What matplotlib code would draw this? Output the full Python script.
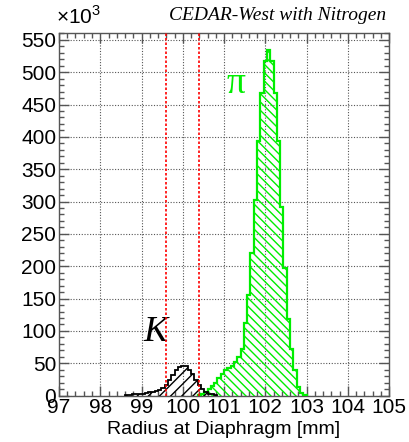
import numpy as np
import matplotlib
matplotlib.use('Agg')
import matplotlib.pyplot as plt
from matplotlib.ticker import MultipleLocator

plt.rcParams['font.family'] = 'Liberation Sans'
plt.rcParams['mathtext.fontset'] = 'custom'
plt.rcParams['mathtext.rm'] = 'Liberation Sans'
plt.rcParams['hatch.linewidth'] = 1.0

# histogram binning: 0.08 mm bins starting at 97 mm
bin_width = 0.08

# pion counts (x10^3), first bin starts at 100.36 mm
pi_start = 100.36
pi_counts = [1, 3, 6, 10, 15, 20, 27, 34, 40, 43, 46, 52, 60, 72, 112, 155,
             221, 302, 393, 468, 518, 535, 518, 468, 393, 292, 198, 118, 72,
             40, 14, 4, 1]

# kaon counts (x10^3), first bin starts at 98.60 mm
k_start = 98.60
k_counts = [1, 1, 2, 2, 3, 3, 4, 5, 6, 7, 9, 11, 17, 24, 32, 40, 44, 46, 45,
            40, 33, 24, 16, 10, 5, 3, 2, 1]

# diaphragm aperture limits
cut_lines = [99.6, 100.4]

x_ticks = [97, 98, 99, 100, 101, 102, 103, 104, 105]

W, H = 409, 442
fig = plt.figure(figsize=(W / 100, H / 100), dpi=100)
ax = fig.add_axes([59 / W, 1 - 395.6 / H, 330 / W, (395.6 - 32.7) / H])

pi_edges = pi_start + bin_width * np.arange(len(pi_counts) + 1)
k_edges = k_start + bin_width * np.arange(len(k_counts) + 1)

ax.stairs(pi_counts, pi_edges, fill=True, facecolor='none', edgecolor='#00ee00',
          hatch='\\\\\\\\', linewidth=1.6, zorder=3)
ax.stairs(k_counts, k_edges, fill=True, facecolor='none', edgecolor='black',
          hatch='///', linewidth=1.3, zorder=4)

for xc in cut_lines:
    ax.axvline(xc, color='red', linestyle=(0, (1.5, 1.2)), linewidth=1.2, zorder=5)

ax.set_xlim(97, 105)
ax.set_ylim(0, 561)

ax.set_xticks(x_ticks)
ax.xaxis.set_minor_locator(MultipleLocator(0.2))
ax.yaxis.set_major_locator(MultipleLocator(50))
ax.yaxis.set_minor_locator(MultipleLocator(10))
ax.tick_params(which='both', direction='in', top=True, right=True,
               color='#555555', labelsize=15)
ax.tick_params(which='major', length=7, width=1)
ax.tick_params(which='minor', length=3.5, width=1)
ax.tick_params(axis='x', pad=1.5)
ax.tick_params(axis='y', pad=2)

ax.grid(True, which='major', linestyle=(0, (1, 1.5)), color='#555555',
        linewidth=0.8, zorder=0)
ax.set_axisbelow(True)
for s in ax.spines.values():
    s.set_color('#555555')
    s.set_linewidth(1.0)

ax.set_xlabel('Radius at Diaphragm [mm]', fontsize=14, labelpad=3)

fig.text(56 / W, 1 - 16 / H, r'$\times10^{3}$', fontsize=15, ha='left', va='center')
fig.text(386 / W, 1 - 15 / H, 'CEDAR-West with Nitrogen', fontsize=14,
         family='Liberation Serif', style='italic', ha='right', va='center')

ax.text(101.3, 482, 'π', color='#00ee00', fontsize=27,
        family='Liberation Serif', ha='center', va='center')
ax.text(99.33, 98, 'K', color='black', fontsize=26,
        family='Liberation Serif', style='italic', ha='center', va='center')

fig.savefig('out.png', dpi=100)
